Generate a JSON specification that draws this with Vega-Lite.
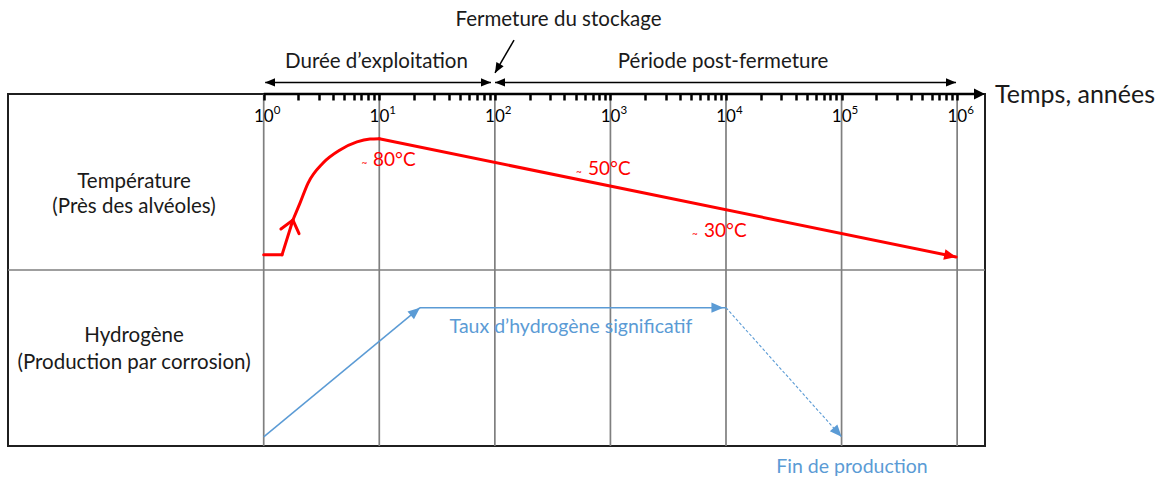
{
  "$schema": "https://vega.github.io/schema/vega-lite/v6.json",
  "width": 977,
  "height": 352,
  "autosize": {"type": "none"},
  "padding": {"left": 8, "top": 94, "right": 181, "bottom": 34},
  "config": {
    "view": {"stroke": "#1f1f1f", "strokeWidth": 2},
    "font": "Lato"
  },
  "resolve": {"axis": {"x": "independent"}},
  "datasets": {
    "grille": [{"t": 1}, {"t": 10}, {"t": 100}, {"t": 1000}, {"t": 10000}, {"t": 100000}, {"t": 1000000}],
    "graduations": [
      {"t": 1, "v": 92.05, "base": "10", "exposant": "0"},
      {"t": 10, "v": 92.05, "base": "10", "exposant": "1"},
      {"t": 100, "v": 92.05, "base": "10", "exposant": "2"},
      {"t": 1000, "v": 92.05, "base": "10", "exposant": "3"},
      {"t": 10000, "v": 92.05, "base": "10", "exposant": "4"},
      {"t": 100000, "v": 92.05, "base": "10", "exposant": "5"},
      {"t": 1000000, "v": 92.05, "base": "10", "exposant": "6"}
    ],
    "separateur": [{"v": 50}],
    "axe": [{"t": 1, "t2": 1600000, "v": 100, "v2": 100}],
    "reperes": [
      {"seg": "exploitation", "t": 1.03, "t2": 92.6, "v": 103.3, "v2": 103.3},
      {"seg": "post-fermeture", "t": 100.3, "t2": 978000, "v": 103.3, "v2": 103.3},
      {"seg": "fermeture", "t": 146.5, "t2": 100.3, "v": 115.3, "v2": 106.0}
    ],
    "pointes": [
      {"groupe": "noir", "t": 1.026, "v": 103.3, "dir": 180},
      {"groupe": "noir", "t": 92.6, "v": 103.3, "dir": 0},
      {"groupe": "noir", "t": 100.3, "v": 103.3, "dir": 180},
      {"groupe": "noir", "t": 978000, "v": 103.3, "dir": 0},
      {"groupe": "noir", "t": 100.3, "v": 106.0, "dir": 120},
      {"groupe": "axe", "t": 1742000, "v": 100, "dir": 0},
      {"groupe": "rouge", "t": 980000, "v": 53.7, "dir": 11.6},
      {"groupe": "bleu", "t": 22.5, "v": 39.3, "dir": -39.6},
      {"groupe": "bleu", "t": 9500, "v": 39.3, "dir": 0},
      {"groupe": "bleu", "t": 100000, "v": 2.6, "dir": 48.3},
      {"groupe": "chevron", "t": 1.79, "v": 64.2, "dir": -75.4}
    ],
    "temperature": [
      {"seg": "a", "t": 1, "v": 54.3},
      {"seg": "a", "t": 1.44, "v": 54.3},
      {"seg": "b", "t": 1.44, "v": 54.3},
      {"seg": "b", "t": 1.79, "v": 64.2},
      {"seg": "c", "t": 1.79, "v": 64.2},
      {"seg": "c", "t": 2.06, "v": 69.0},
      {"seg": "c", "t": 2.42, "v": 74.7},
      {"seg": "c", "t": 3.26, "v": 80.4},
      {"seg": "c", "t": 4.57, "v": 84.1},
      {"seg": "c", "t": 6.41, "v": 86.4},
      {"seg": "c", "t": 8.31, "v": 87.2},
      {"seg": "c", "t": 10, "v": 87.3},
      {"seg": "d", "t": 10, "v": 87.3},
      {"seg": "d", "t": 980000, "v": 53.7}
    ],
    "hydrogene": [
      {"trait": "plein", "t": 1, "t2": 22.5, "v": 2.6, "v2": 39.3},
      {"trait": "plein", "t": 22.5, "t2": 10000, "v": 39.3, "v2": 39.3},
      {"trait": "tirets", "t": 10000, "t2": 100000, "v": 39.3, "v2": 2.6}
    ],
    "textes": [
      {"style": "cote", "t": 0.0755, "v": 73.3, "texte": "Température"},
      {"style": "cote", "t": 0.0755, "v": 66.2, "texte": "(Près des alvéoles)"},
      {"style": "cote", "t": 0.0755, "v": 29.5, "texte": "Hydrogène"},
      {"style": "cote", "t": 0.0755, "v": 21.9, "texte": "(Production par corrosion)"},
      {"style": "haut", "t": 9.46, "v": 107.4, "texte": "Durée d’exploitation"},
      {"style": "haut", "t": 355.6, "v": 119.3, "texte": "Fermeture du stockage"},
      {"style": "haut", "t": 9440, "v": 107.4, "texte": "Période post-fermeture"},
      {"style": "titre", "t": 2130000, "v": 97.4, "texte": "Temps, années"},
      {"style": "temp", "t": 8.83, "v": 79.5, "texte": "80°C"},
      {"style": "temp", "t": 640, "v": 77.0, "texte": "50°C"},
      {"style": "temp", "t": 6457, "v": 59.4, "texte": "30°C"},
      {"style": "tilde", "t": 7.0, "v": 80.4, "texte": "~"},
      {"style": "tilde", "t": 504, "v": 77.8, "texte": "~"},
      {"style": "tilde", "t": 5085, "v": 60.2, "texte": "~"},
      {"style": "bleu", "t": 456, "v": 32.1, "texte": "Taux d’hydrogène significatif"},
      {"style": "bleu", "t": 123000, "v": -7.7, "texte": "Fin de production"}
    ]
  },
  "layer": [
    {
      "data": {"name": "grille"},
      "mark": {"type": "rule", "color": "#7f7f7f", "strokeWidth": 1.7},
      "encoding": {
        "x": {
          "field": "t", "type": "quantitative",
          "scale": {"type": "log", "domain": [0.00613, 1742000], "nice": false, "zero": false},
          "axis": {
            "orient": "bottom", "offset": -352, "zindex": 2,
            "values": [1, 10, 100, 1000, 10000, 100000, 1000000],
            "grid": false, "domain": false, "title": null, "labels": false,
            "ticks": true, "tickSize": 6, "tickWidth": 2.5, "tickColor": "#000000"
          }
        }
      }
    },
    {
      "data": {"name": "separateur"},
      "mark": {"type": "rule", "color": "#7f7f7f", "strokeWidth": 1.5},
      "encoding": {
        "y": {"field": "v", "type": "quantitative", "scale": {"domain": [0, 100], "nice": false, "zero": false}, "axis": null}
      }
    },
    {
      "data": {"name": "axe"},
      "mark": {"type": "rule", "color": "#000000", "strokeWidth": 2.7},
      "encoding": {
        "x": {
          "field": "t", "type": "quantitative",
          "scale": {"type": "log", "domain": [0.00613, 1742000], "nice": false, "zero": false},
          "axis": {
            "orient": "bottom", "offset": -352, "zindex": 2,
            "values": [2, 3, 4, 5, 6, 7, 8, 9, 20, 30, 40, 50, 60, 70, 80, 90, 200, 300, 400, 500, 600, 700, 800, 900, 2000, 3000, 4000, 5000, 6000, 7000, 8000, 9000, 20000, 30000, 40000, 50000, 60000, 70000, 80000, 90000, 200000, 300000, 400000, 500000, 600000, 700000, 800000, 900000],
            "grid": false, "domain": false, "title": null, "labels": false,
            "ticks": true, "tickSize": 6, "tickWidth": 2.5, "tickColor": "#000000"
          }
        },
        "x2": {"field": "t2"},
        "y": {"field": "v", "type": "quantitative", "scale": {"domain": [0, 100], "nice": false, "zero": false}, "axis": null},
        "y2": {"field": "v2"}
      }
    },
    {
      "data": {"name": "graduations"},
      "mark": {"type": "text", "font": "Lato", "fontSize": 17, "color": "#000000", "align": "right", "baseline": "alphabetic", "dx": 10},
      "encoding": {
        "x": {"field": "t", "type": "quantitative", "scale": {"type": "log", "domain": [0.00613, 1742000], "nice": false, "zero": false}, "axis": null},
        "y": {"field": "v", "type": "quantitative", "scale": {"domain": [0, 100], "nice": false, "zero": false}, "axis": null},
        "text": {"field": "base"}
      }
    },
    {
      "data": {"name": "graduations"},
      "mark": {"type": "text", "font": "Lato", "fontSize": 11.5, "color": "#000000", "align": "left", "baseline": "alphabetic", "dx": 10, "dy": -8},
      "encoding": {
        "x": {"field": "t", "type": "quantitative", "scale": {"type": "log", "domain": [0.00613, 1742000], "nice": false, "zero": false}, "axis": null},
        "y": {"field": "v", "type": "quantitative", "scale": {"domain": [0, 100], "nice": false, "zero": false}, "axis": null},
        "text": {"field": "exposant"}
      }
    },
    {
      "data": {"name": "reperes"},
      "mark": {"type": "rule", "color": "#000000", "strokeWidth": 1.5},
      "encoding": {
        "x": {"field": "t", "type": "quantitative", "scale": {"type": "log", "domain": [0.00613, 1742000], "nice": false, "zero": false}, "axis": null},
        "x2": {"field": "t2"},
        "y": {"field": "v", "type": "quantitative", "scale": {"domain": [0, 100], "nice": false, "zero": false}, "axis": null},
        "y2": {"field": "v2"}
      }
    },
    {
      "data": {"name": "hydrogene"},
      "transform": [{"filter": "datum.trait === 'plein'"}],
      "mark": {"type": "rule", "color": "#5B9BD5", "strokeWidth": 1.5},
      "encoding": {
        "x": {"field": "t", "type": "quantitative", "scale": {"type": "log", "domain": [0.00613, 1742000], "nice": false, "zero": false}, "axis": null},
        "x2": {"field": "t2"},
        "y": {"field": "v", "type": "quantitative", "scale": {"domain": [0, 100], "nice": false, "zero": false}, "axis": null},
        "y2": {"field": "v2"}
      }
    },
    {
      "data": {"name": "hydrogene"},
      "transform": [{"filter": "datum.trait === 'tirets'"}],
      "mark": {"type": "rule", "color": "#5B9BD5", "strokeWidth": 1.1, "strokeDash": [3, 2]},
      "encoding": {
        "x": {"field": "t", "type": "quantitative", "scale": {"type": "log", "domain": [0.00613, 1742000], "nice": false, "zero": false}, "axis": null},
        "x2": {"field": "t2"},
        "y": {"field": "v", "type": "quantitative", "scale": {"domain": [0, 100], "nice": false, "zero": false}, "axis": null},
        "y2": {"field": "v2"}
      }
    },
    {
      "data": {"name": "temperature"},
      "mark": {"type": "line", "color": "#FF0000", "strokeWidth": 3, "interpolate": "monotone", "strokeCap": "round", "strokeJoin": "round"},
      "encoding": {
        "x": {"field": "t", "type": "quantitative", "scale": {"type": "log", "domain": [0.00613, 1742000], "nice": false, "zero": false}, "axis": null},
        "y": {"field": "v", "type": "quantitative", "scale": {"domain": [0, 100], "nice": false, "zero": false}, "axis": null},
        "detail": {"field": "seg"}
      }
    },
    {
      "data": {"name": "pointes"},
      "transform": [{"filter": "datum.groupe === 'noir'"}],
      "mark": {"type": "point", "shape": "M0,0L-1,-0.42L-1,0.42Z", "filled": true, "color": "#000000", "opacity": 1, "size": 400, "strokeWidth": 0},
      "encoding": {
        "x": {"field": "t", "type": "quantitative", "scale": {"type": "log", "domain": [0.00613, 1742000], "nice": false, "zero": false}, "axis": null},
        "y": {"field": "v", "type": "quantitative", "scale": {"domain": [0, 100], "nice": false, "zero": false}, "axis": null},
        "angle": {"field": "dir", "type": "quantitative", "scale": null}
      }
    },
    {
      "data": {"name": "pointes"},
      "transform": [{"filter": "datum.groupe === 'axe'"}],
      "mark": {"type": "point", "shape": "M0,0L-1,-0.5L-1,0.5Z", "filled": true, "color": "#000000", "opacity": 1, "size": 484, "strokeWidth": 0},
      "encoding": {
        "x": {"field": "t", "type": "quantitative", "scale": {"type": "log", "domain": [0.00613, 1742000], "nice": false, "zero": false}, "axis": null},
        "y": {"field": "v", "type": "quantitative", "scale": {"domain": [0, 100], "nice": false, "zero": false}, "axis": null},
        "angle": {"field": "dir", "type": "quantitative", "scale": null}
      }
    },
    {
      "data": {"name": "pointes"},
      "transform": [{"filter": "datum.groupe === 'rouge'"}],
      "mark": {"type": "point", "shape": "M0,0L-1,-0.45L-1,0.45Z", "filled": true, "color": "#FF0000", "opacity": 1, "size": 576, "strokeWidth": 0},
      "encoding": {
        "x": {"field": "t", "type": "quantitative", "scale": {"type": "log", "domain": [0.00613, 1742000], "nice": false, "zero": false}, "axis": null},
        "y": {"field": "v", "type": "quantitative", "scale": {"domain": [0, 100], "nice": false, "zero": false}, "axis": null},
        "angle": {"field": "dir", "type": "quantitative", "scale": null}
      }
    },
    {
      "data": {"name": "pointes"},
      "transform": [{"filter": "datum.groupe === 'bleu'"}],
      "mark": {"type": "point", "shape": "M0,0L-1,-0.42L-1,0.42Z", "filled": true, "color": "#5B9BD5", "opacity": 1, "size": 576, "strokeWidth": 0},
      "encoding": {
        "x": {"field": "t", "type": "quantitative", "scale": {"type": "log", "domain": [0.00613, 1742000], "nice": false, "zero": false}, "axis": null},
        "y": {"field": "v", "type": "quantitative", "scale": {"domain": [0, 100], "nice": false, "zero": false}, "axis": null},
        "angle": {"field": "dir", "type": "quantitative", "scale": null}
      }
    },
    {
      "data": {"name": "pointes"},
      "transform": [{"filter": "datum.groupe === 'chevron'"}],
      "mark": {"type": "point", "shape": "M-1,-0.8L0,0L-1,0.8", "filled": false, "color": "#FF0000", "opacity": 1, "size": 548, "strokeWidth": 3, "strokeCap": "round"},
      "encoding": {
        "x": {"field": "t", "type": "quantitative", "scale": {"type": "log", "domain": [0.00613, 1742000], "nice": false, "zero": false}, "axis": null},
        "y": {"field": "v", "type": "quantitative", "scale": {"domain": [0, 100], "nice": false, "zero": false}, "axis": null},
        "angle": {"field": "dir", "type": "quantitative", "scale": null}
      }
    },
    {
      "data": {"name": "textes"},
      "transform": [{"filter": "datum.style === 'cote' || datum.style === 'haut'"}],
      "mark": {"type": "text", "font": "Lato", "fontSize": 20.5, "color": "#1a1a1a", "align": "center", "baseline": "alphabetic"},
      "encoding": {
        "x": {"field": "t", "type": "quantitative", "scale": {"type": "log", "domain": [0.00613, 1742000], "nice": false, "zero": false}, "axis": null},
        "y": {"field": "v", "type": "quantitative", "scale": {"domain": [0, 100], "nice": false, "zero": false}, "axis": null},
        "text": {"field": "texte"}
      }
    },
    {
      "data": {"name": "textes"},
      "transform": [{"filter": "datum.style === 'titre'"}],
      "mark": {"type": "text", "font": "Lato", "fontSize": 25, "color": "#1a1a1a", "align": "left", "baseline": "alphabetic"},
      "encoding": {
        "x": {"field": "t", "type": "quantitative", "scale": {"type": "log", "domain": [0.00613, 1742000], "nice": false, "zero": false}, "axis": null},
        "y": {"field": "v", "type": "quantitative", "scale": {"domain": [0, 100], "nice": false, "zero": false}, "axis": null},
        "text": {"field": "texte"}
      }
    },
    {
      "data": {"name": "textes"},
      "transform": [{"filter": "datum.style === 'temp'"}],
      "mark": {"type": "text", "font": "Lato", "fontSize": 19, "color": "#FF0000", "align": "left", "baseline": "alphabetic"},
      "encoding": {
        "x": {"field": "t", "type": "quantitative", "scale": {"type": "log", "domain": [0.00613, 1742000], "nice": false, "zero": false}, "axis": null},
        "y": {"field": "v", "type": "quantitative", "scale": {"domain": [0, 100], "nice": false, "zero": false}, "axis": null},
        "text": {"field": "texte"}
      }
    },
    {
      "data": {"name": "textes"},
      "transform": [{"filter": "datum.style === 'tilde'"}],
      "mark": {"type": "text", "font": "Lato", "fontSize": 10, "color": "#FF0000", "align": "left", "baseline": "middle"},
      "encoding": {
        "x": {"field": "t", "type": "quantitative", "scale": {"type": "log", "domain": [0.00613, 1742000], "nice": false, "zero": false}, "axis": null},
        "y": {"field": "v", "type": "quantitative", "scale": {"domain": [0, 100], "nice": false, "zero": false}, "axis": null},
        "text": {"field": "texte"}
      }
    },
    {
      "data": {"name": "textes"},
      "transform": [{"filter": "datum.style === 'bleu'"}],
      "mark": {"type": "text", "font": "Lato", "fontSize": 19.5, "color": "#5B9BD5", "align": "center", "baseline": "alphabetic"},
      "encoding": {
        "x": {"field": "t", "type": "quantitative", "scale": {"type": "log", "domain": [0.00613, 1742000], "nice": false, "zero": false}, "axis": null},
        "y": {"field": "v", "type": "quantitative", "scale": {"domain": [0, 100], "nice": false, "zero": false}, "axis": null},
        "text": {"field": "texte"}
      }
    }
  ]
}
